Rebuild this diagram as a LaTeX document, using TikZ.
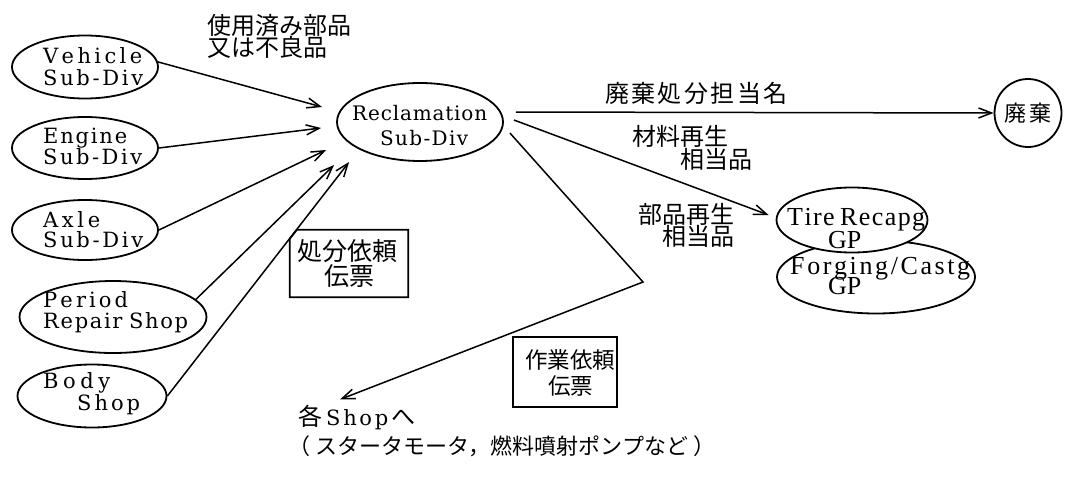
\documentclass[tikz,border=0pt]{standalone}
\usepackage{fontspec}
\setmainfont{Liberation Serif}
\newfontfamily\lblf{DejaVu Serif}
\newfontfamily\jp{Noto Sans CJK JP}
\newfontfamily\jpw[LetterSpace=10]{Noto Sans CJK JP}
\usetikzlibrary{arrows.meta,shapes.geometric,calc}
\newcommand\spreadw[2]{\makebox[#1][s]{#2}}
\tikzset{
  ell/.style={ellipse, draw, line width=1.8pt, inner sep=0pt},
  lt/.style={anchor=base west, inner sep=0pt, text height=15pt, text depth=1pt, font=\lblf\fontsize{21}{21}\selectfont},
  gt/.style={anchor=base west, inner sep=0pt, text height=17pt, text depth=1pt, font=\fontsize{26}{26}\selectfont},
  jt/.style={anchor=west, inner sep=0pt, font=\jp\fontsize{24}{24}\selectfont},
  arr/.style={line width=1.5pt, -{Straight Barb[length=13pt,width=10pt,line width=1.5pt]}},
  slip/.style={line width=1.8pt}
}
\begin{document}
\begin{tikzpicture}[x=1pt,y=-1pt]
\useasboundingbox (0,0) rectangle (1065,479);

% source ellipses
\node[ell, minimum width=146pt, minimum height=63pt] (veh) at (85,67) {};
\node[lt] (vehA) at (43,63) {\spreadw{99pt}{V\hfill e\hfill h\hfill i\hfill c\hfill l\hfill e}};
\node[lt] (vehB) at (43,85) {\spreadw{100pt}{S\hfill u\hfill b\hfill -\hfill D\hfill i\hfill v}};

\node[ell, minimum width=146pt, minimum height=62pt] (eng) at (85,148) {};
\node[lt] (engA) at (43,143) {\spreadw{84pt}{E\hfill n\hfill g\hfill i\hfill n\hfill e}};
\node[lt] (engB) at (43,164) {\spreadw{99pt}{S\hfill u\hfill b\hfill -\hfill D\hfill i\hfill v}};

\node[ell, minimum width=146pt, minimum height=60pt] (axl) at (85,230) {};
\node[lt] (axlA) at (43,227) {\spreadw{57pt}{A\hfill x\hfill l\hfill e}};
\node[lt] (axlB) at (43,247) {\spreadw{100pt}{S\hfill u\hfill b\hfill -\hfill D\hfill i\hfill v}};

\node[ell, minimum width=187pt, minimum height=72pt] (per) at (113,317) {};
\node[lt] (perA) at (43,307) {\spreadw{85pt}{P\hfill e\hfill r\hfill i\hfill o\hfill d}};
\node[lt] (perB) at (43,328) {\spreadw{145pt}{R\hfill e\hfill p\hfill a\hfill i\hfill r\hfill\hspace{5pt}S\hfill h\hfill o\hfill p}};

\node[ell, minimum width=149pt, minimum height=63pt] (bod) at (92,396) {};
\node[lt] (bodA) at (43,388) {\spreadw{67pt}{B\hfill o\hfill d\hfill y}};
\node[lt] (bodB) at (77,410) {\spreadw{63pt}{S\hfill h\hfill o\hfill p}};

% reclamation
\node[ell, minimum width=166pt, minimum height=78pt] (rec) at (420,122) {};
\node[lt, font=\lblf\fontsize{20}{20}\selectfont] (recA) at (352,120) {\spreadw{135pt}{R\hfill e\hfill c\hfill l\hfill a\hfill m\hfill a\hfill t\hfill i\hfill o\hfill n}};
\node[lt, font=\lblf\fontsize{20}{20}\selectfont] (recB) at (380,145) {\spreadw{88pt}{S\hfill u\hfill b\hfill -\hfill D\hfill i\hfill v}};

% disposal circle
\node[ell, minimum width=67pt, minimum height=68pt] (hai) at (1028,113) {};
\node[inner sep=0pt, font=\jp\fontsize{22}{22}\selectfont] (haiT) at (1028,113) {廃\hspace{4pt}棄};

% regeneration ellipses
\node[ell, minimum width=198pt, minimum height=73pt] (frg) at (876,277) {};
\node[ell, fill=white, minimum width=151pt, minimum height=65pt] (tir) at (852,220) {};
\node[gt] (tirA) at (787,225) {\spreadw{138pt}{T\hfill i\hfill r\hfill e\hfill\hspace{4pt}R\hfill e\hfill c\hfill a\hfill p\hfill g}};
\node[gt] (tirB) at (828,248) {\spreadw{34pt}{GP}};
\node[gt] (frgA) at (790,274) {\spreadw{180pt}{F\hfill o\hfill r\hfill g\hfill i\hfill n\hfill g\hfill /\hfill C\hfill a\hfill s\hfill t\hfill g}};
\node[gt] (frgB) at (828,294) {\spreadw{34pt}{GP}};

% slips
\node[minimum width=118pt, minimum height=67pt, inner sep=0pt] (slipA) at (349,263.5) {};
\draw[slip] ($(slipA.north west)+(7,0)$) -- (slipA.north east) -- (slipA.south east)
  -- (slipA.south west) -- ($(slipA.north west)+(0,9)$) -- cycle;
\node[jt, font=\jp\fontsize{25}{25}\selectfont] (slipA1) at (297,251) {処分依頼};
\node[jt, font=\jp\fontsize{25}{25}\selectfont] (slipA2) at (324,276) {伝票};

\node[draw, line width=2.2pt, minimum width=104pt, minimum height=70pt, inner sep=0pt] (slipB) at (565,372) {};
\node[jt, font=\jp\fontsize{22.5}{22.5}\selectfont] (slipB1) at (525,360) {作業依頼};
\node[jt, font=\jp\fontsize{22.5}{22.5}\selectfont] (slipB2) at (548,386) {伝票};

% labels
\node[jt] (usedA) at (207,25) {使用済み部品};
\node[jt] (usedB) at (207,47) {又は不良品};
\node[jt, font=\jpw\fontsize{24}{24}\selectfont] (haiL) at (605,93) {廃棄処分担当名};
\node[jt] (matA) at (632,136) {材料再生};
\node[jt] (matB) at (680,159) {相当品};
\node[jt] (parA) at (638,214) {部品再生};
\node[jt] (parB) at (662,236) {相当品};

\node[anchor=west, inner sep=0pt] (shop) at (298,418)
  {{\jp\fontsize{24}{24}\selectfont 各}\hspace{4pt}{\lblf\fontsize{21}{21}\selectfont\spreadw{62pt}{S\hfill h\hfill o\hfill p}}\hspace{3pt}{\jp\fontsize{24}{24}\selectfont へ}};
\node[inner sep=0pt, font=\jp\fontsize{22}{22}\selectfont] (cap) at (502,446)
  {（ スタータモータ，燃料噴射ポンプなど ）};

% incoming arrows
\draw[arr] (veh.4) -- ($(rec.west)+(-14,-15)$);
\draw[arr] (eng.east) -- ($(rec.west)+(-15,6)$);
\draw[arr] (axl.east) -- ($(rec.west)+(-10,28)$);
\draw[arr] (per.12) -- ($(rec.west)+(-2,43)$);
\draw[arr] (bod.east) -- ($(rec.west)+(13,40)$);

% outgoing arrows
\draw[arr] ($(rec.east)+(12,-10)$) -- (hai.west);
\draw[arr] ($(rec.east)+(10,-2)$) -- ($(tir.west)+(-7,-5)$);
\coordinate (bend) at (643,282);
\draw[arr] ($(rec.east)+(6,11)$) -- (bend) -- ($(shop.north west)+(42,-6)$);
\end{tikzpicture}
\end{document}
